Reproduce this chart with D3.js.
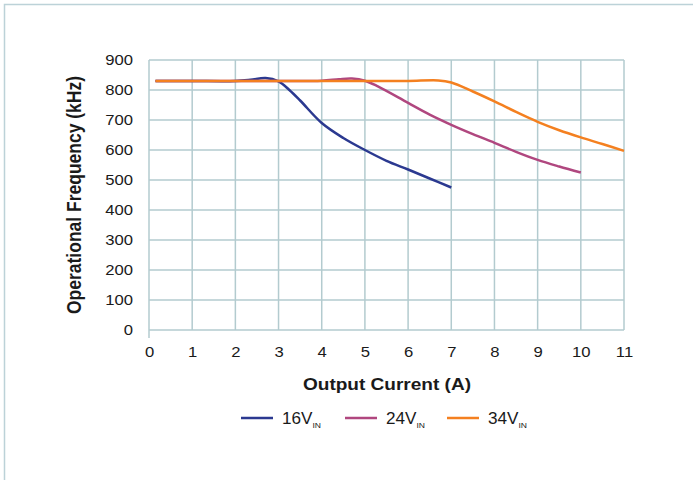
<!DOCTYPE html>
<html>
<head>
<meta charset="utf-8">
<script src="https://cdn.jsdelivr.net/npm/d3@7"></script>
<style>
  body { margin: 0; background: #fff; }
  svg { display: block; font-family: "Liberation Sans", Arial, sans-serif; }
</style>
</head>
<body>
<svg id="chart" width="693" height="480"></svg>
<script>
// Series data (x = output current A, y = frequency kHz)
const v16 = [[0.15,830],[1,830],[2,830],[2.35,834],[2.7,840],[3.0,829],[3.25,800],[3.5,765],[4,690],[4.5,640],[5,600],[5.5,564],[6,535],[6.5,505],[7,475]];
const v24 = [[0.15,830],[1,830],[2,830],[3,830],[4,831],[4.4,836],[4.7,838],[5,831],[5.3,812],[6,757],[6.5,718],[7,684],[7.5,653],[8,624],[8.5,594],[9,567],[9.5,545],[10,525]];
const v34 = [[0.15,830],[1,830],[2,830],[3,830],[4,830],[5,830],[6,830],[6.7,832],[7,825],[7.5,795],[8,762],[8.5,727],[9,694],[9.5,666],[10,642],[10.5,620],[11,597]];

const xTicks = [0,1,2,3,4,5,6,7,8,9,10,11];
const yTicks = [0,100,200,300,400,500,600,700,800,900];

const seriesNames = ['16V', '24V', '34V'];
const seriesData = [v16, v24, v34];
const colors = ['#2b3990', '#b0477f', '#f48020'];

// Layout
const margin = { top: 60, right: 69, bottom: 150, left: 149 };
const width = 693 - margin.left - margin.right;
const height = 480 - margin.top - margin.bottom;
const stretch = 1.19; // reference text is a bit wide

const svg = d3.select('#chart');

// Outer frame (top and left edges)
svg.append('path')
  .attr('d', 'M4.5,480 V4.5 H693')
  .attr('fill', 'none')
  .attr('stroke', '#bcd2d8')
  .attr('stroke-width', 1.5);

const g = svg.append('g')
  .attr('transform', `translate(${margin.left},${margin.top})`);

const x = d3.scaleLinear().domain([0, 11]).range([0, width]);
const y = d3.scaleLinear().domain([0, 900]).range([height, 0]);

const gridColor = '#b3cbcf';

// Grid
g.append('g')
  .selectAll('line')
  .data(xTicks)
  .enter().append('line')
  .attr('x1', d => x(d)).attr('x2', d => x(d))
  .attr('y1', 0).attr('y2', d => d === 0 ? height + 8 : height)
  .attr('stroke', gridColor)
  .attr('stroke-width', 1.5);

g.append('g')
  .selectAll('line')
  .data(yTicks)
  .enter().append('line')
  .attr('x1', 0).attr('x2', width)
  .attr('y1', d => y(d)).attr('y2', d => y(d))
  .attr('stroke', gridColor)
  .attr('stroke-width', 1.5);

function widen(sel) {
  sel.each(function () {
    const L = this.getComputedTextLength();
    d3.select(this)
      .attr('textLength', L * stretch)
      .attr('lengthAdjust', 'spacingAndGlyphs');
  });
}

// Axes labels via d3 axes
const xAxis = d3.axisBottom(x).tickValues(xTicks).tickSize(0).tickPadding(17);
g.append('g')
  .attr('transform', `translate(0,${height})`)
  .call(xAxis)
  .call(s => s.select('.domain').remove())
  .selectAll('text')
  .attr('font-size', 14)
  .attr('fill', '#1a1a1a')
  .attr('font-family', '"Liberation Sans", Arial, sans-serif')
  .call(widen);

const yAxis = d3.axisLeft(y).tickValues(yTicks).tickSize(0).tickPadding(16);
g.append('g')
  .call(yAxis)
  .call(s => s.select('.domain').remove())
  .selectAll('text')
  .attr('font-size', 14)
  .attr('fill', '#1a1a1a')
  .attr('font-family', '"Liberation Sans", Arial, sans-serif')
  .call(widen);

// Lines
const line = d3.line()
  .x(d => x(d[0]))
  .y(d => y(d[1]))
  .curve(d3.curveCatmullRom.alpha(0.5));

seriesData.forEach((data, i) => {
  g.append('path')
    .datum(data)
    .attr('fill', 'none')
    .attr('stroke', colors[i])
    .attr('stroke-width', 2.5)
    .attr('d', line);
});

// Axis titles
svg.append('text')
  .attr('transform', `translate(387,390) scale(${stretch},1)`)
  .attr('text-anchor', 'middle')
  .attr('font-size', 16)
  .attr('font-weight', 'bold')
  .attr('fill', '#1a1a1a')
  .text('Output Current (A)');

svg.append('text')
  .attr('transform', `translate(81,195) rotate(-90) scale(1,${stretch})`)
  .attr('text-anchor', 'middle')
  .attr('font-size', 17.5)
  .attr('font-weight', 'bold')
  .attr('fill', '#1a1a1a')
  .text('Operational Frequency (kHz)');

// Legend
const legendX = [241, 345, 447];
seriesNames.forEach((name, i) => {
  const lg = svg.append('g').attr('transform', `translate(${legendX[i]},418)`);
  lg.append('line')
    .attr('x1', 0).attr('x2', 32)
    .attr('y1', 0).attr('y2', 0)
    .attr('stroke', colors[i])
    .attr('stroke-width', 2.5);
  const t = lg.append('text')
    .attr('transform', `translate(41,6) scale(${stretch * 0.9},1)`)
    .attr('font-size', 16)
    .attr('fill', '#1a1a1a');
  t.append('tspan').text(name);
  t.append('tspan').attr('font-size', 8).attr('dy', 4).text('IN');
});
</script>
</body>
</html>
